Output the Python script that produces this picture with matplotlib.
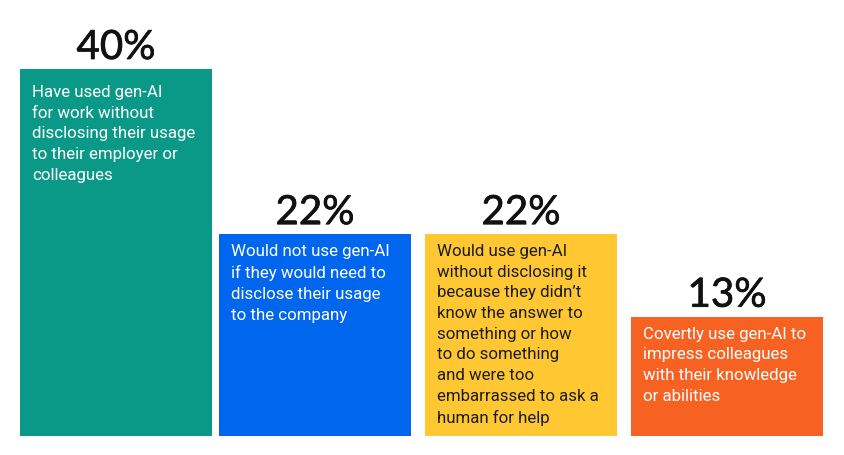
import matplotlib.pyplot as plt
import matplotlib.patheffects as pe

# survey shares (percent)
values = [40, 22, 22, 13]
labels = ['40%', '22%', '22%', '13%']
descriptions = [
    'Have used gen-AI\nfor work without\ndisclosing their usage\nto their employer or\ncolleagues',
    'Would not use gen-AI\nif they would need to\ndisclose their usage\nto the company',
    'Would use gen-AI\nwithout disclosing it\nbecause they didn\u2019t\nknow the answer to\nsomething or how\nto do something\nand were too\nembarrassed to ask a\nhuman for help',
    'Covertly use gen-AI to\nimpress colleagues\nwith their knowledge\nor abilities',
]
colors = ['#0a9986', '#0066ee', '#ffc832', '#f76222']
text_colors = ['white', 'white', '#1c1c1c', 'white']

W, H = 845, 455
fig = plt.figure(figsize=(W / 100, H / 100), dpi=100)
# axes: x in pixels, y in percent; bottom of bars at 436 px, 40% = 367 px
px_per_pct = 367 / 40
ax = fig.add_axes([0, (H - 436) / H, 1, 436 / H])
ax.set_xlim(0, W)
ax.set_ylim(0, 436 / px_per_pct)
ax.axis('off')

lefts = [20, 219, 425, 631]
bar_w = 192
text_pad = [16, 10, 10, 10]  # px below bar top

ax.bar(lefts, values, width=bar_w, align='edge', color=colors)

for left, v, lab, desc, tc, pad in zip(lefts, values, labels, descriptions, text_colors, text_pad):
    ax.text(left + bar_w / 2, v + 10 / px_per_pct, lab, ha='center', va='baseline',
            fontsize=29, family='Lato', color='#111111',
            path_effects=[pe.withStroke(linewidth=0.5, foreground='#111111')])
    ax.text(left + 12, v - pad / px_per_pct, desc, ha='left', va='top',
            fontsize=12.2, family='Roboto', color=tc, linespacing=1.47)

fig.savefig('out.png', dpi=100)
